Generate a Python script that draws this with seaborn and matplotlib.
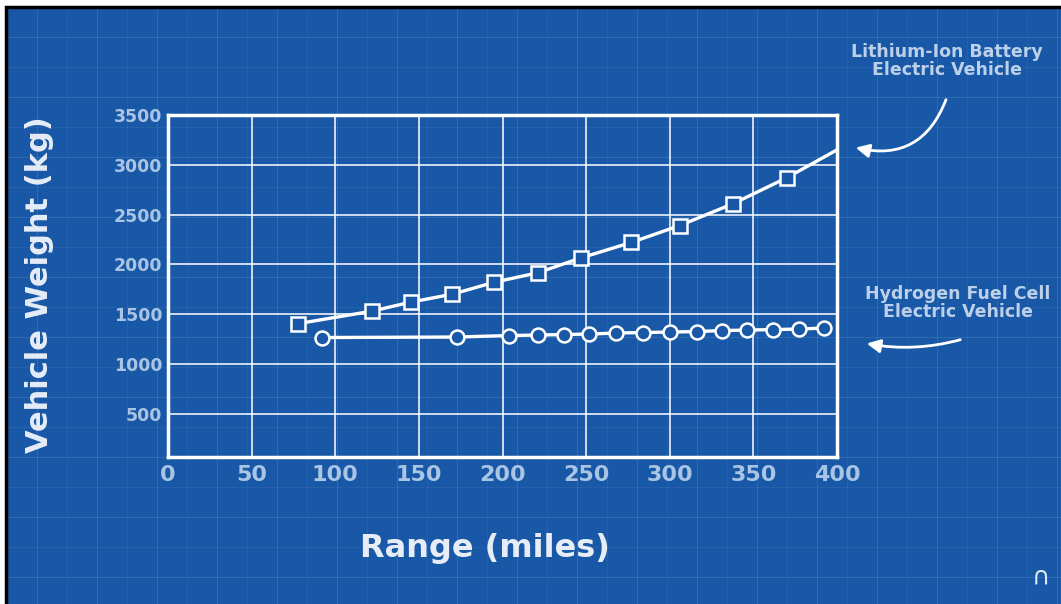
import matplotlib
matplotlib.use("Agg")
import matplotlib.pyplot as plt
from matplotlib.patches import Rectangle
import seaborn as sns

sns.set_style("white")
plt.rcParams['font.family'] = ['DejaVu Sans']

# data
battery_range = [78, 122, 145, 170, 195, 221, 247, 277, 306, 338, 370, 400]
battery_weight = [1405, 1530, 1620, 1700, 1820, 1915, 2065, 2220, 2390, 2610, 2870, 3150]
fuelcell_range = [92, 173, 204, 221, 237, 252, 268, 284, 300, 316, 331, 346, 362, 377, 392]
fuelcell_weight = [1265, 1270, 1285, 1290, 1295, 1300, 1310, 1315, 1320, 1325, 1335, 1340, 1345, 1350, 1360]
x_ticks = [0, 50, 100, 150, 200, 250, 300, 350, 400]
y_ticks = [500, 1000, 1500, 2000, 2500, 3000, 3500]

bg = '#1858a6'
tick_col = '#a9c4e4'
label_col = '#e6edf7'
note_col = '#bcd0ea'

W, H = 1061, 604
fig = plt.figure(figsize=(W / 100, H / 100), dpi=100, facecolor='white')

# blueprint paper with faint grid
back = fig.add_axes([0, 0, 1, 1])
back.set_xlim(0, W)
back.set_ylim(H, 0)
back.set_facecolor('white')
back.axis('off')
back.add_patch(Rectangle((6, 7), W + 10, H + 10, fc=bg, ec='black', lw=2.5, zorder=0))
for i, gx in enumerate(range(37, W, 30)):
    back.vlines(gx, 9, H, color='white', lw=0.8, alpha=0.06 if i % 2 else 0.10, zorder=1)
for i, gy in enumerate(range(37, H, 30)):
    back.hlines(gy, 8, W, color='white', lw=0.8, alpha=0.06 if i % 2 else 0.10, zorder=1)

# main chart
left, right, top, bottom = 168, 837, 115, 457
ax = fig.add_axes([left / W, 1 - bottom / H, (right - left) / W, (bottom - top) / H])
ax.set_facecolor('none')

sns.lineplot(x=battery_range, y=battery_weight, ax=ax, color='white', lw=2.4,
             marker='s', markersize=10.5, markerfacecolor=bg, markeredgecolor='white',
             markeredgewidth=1.8, markevery=list(range(len(battery_range) - 1)),
             sort=False, estimator=None, zorder=5)
sns.lineplot(x=fuelcell_range, y=fuelcell_weight, ax=ax, color='white', lw=2.4,
             marker='o', markersize=10, markerfacecolor=bg, markeredgecolor='white',
             markeredgewidth=1.8, sort=False, estimator=None, zorder=5)

ax.set_xlim(0, 400)
ax.set_ylim(65, 3500)
ax.set_xticks(x_ticks)
ax.set_yticks(y_ticks)
ax.grid(True, color='white', lw=1.3, alpha=0.85)
ax.tick_params(axis='x', length=0, pad=6, labelsize=16, labelcolor=tick_col)
ax.tick_params(axis='y', length=0, pad=4, labelsize=12.5, labelcolor=tick_col)
for lab in ax.get_xticklabels() + ax.get_yticklabels():
    lab.set_fontweight('bold')
for spine in ax.spines.values():
    spine.set_color('white')
    spine.set_linewidth(2.5)

fig.text(40 / W, 1 - 285 / H, 'Vehicle Weight (kg)', rotation=90, ha='center', va='center',
         fontsize=22, fontweight='heavy', color=label_col)
fig.text(485 / W, 1 - 548 / H, 'Range (miles)', ha='center', va='center',
         fontsize=23, fontweight='heavy', color=label_col)

# annotations
fig.text(947 / W, 1 - 61 / H, 'Lithium-Ion Battery\nElectric Vehicle', ha='center', va='center',
         fontsize=12.5, fontweight='bold', color=note_col, linespacing=1.0)
fig.text(958 / W, 1 - 303 / H, 'Hydrogen Fuel Cell\nElectric Vehicle', ha='center', va='center',
         fontsize=12.5, fontweight='bold', color=note_col, linespacing=1.0)
back.annotate('', xy=(853, 147), xytext=(947, 97),
              arrowprops=dict(arrowstyle='-|>', color='white', lw=2, mutation_scale=20,
                              connectionstyle='arc3,rad=-0.45'))
back.annotate('', xy=(864, 343), xytext=(963, 339),
              arrowprops=dict(arrowstyle='-|>', color='white', lw=2, mutation_scale=20,
                              connectionstyle='arc3,rad=-0.12'))
back.text(1041, 577, '\u2229', ha='center', va='center', fontsize=18, color='#dfe8f5')

fig.savefig('out.png', dpi=100, facecolor='white')
